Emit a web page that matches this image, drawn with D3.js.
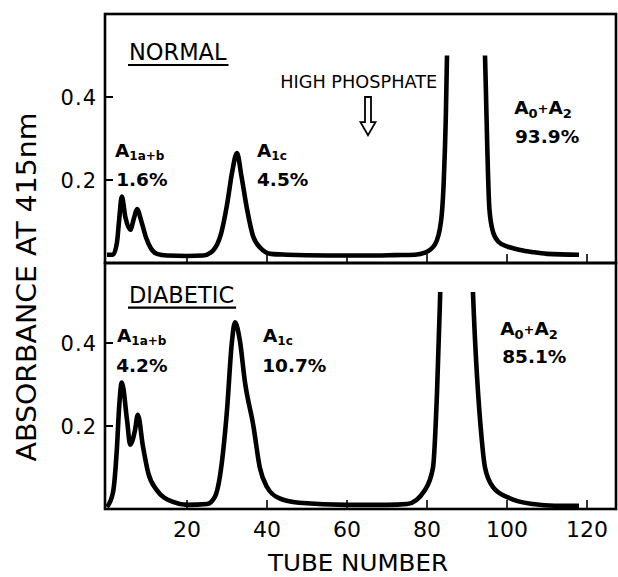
<!DOCTYPE html>
<html>
<head>
<meta charset="utf-8">
<script src="https://cdn.jsdelivr.net/npm/d3@7"></script>
<style>
	body { margin:0; background:#fff; }
	svg { display:block; font-family:"DejaVu Sans", "Liberation Sans", sans-serif; }
</style>
</head>
<body>
<svg id="chart" width="618" height="577"></svg>
<script>
// chromatogram: tube number vs absorbance
var normalTube = [0, 1.5, 2.5, 3.0, 3.7, 4.6, 5.8, 6.8, 7.5, 8.6, 9.8, 11, 12.5, 15, 20, 24, 26.5, 28.5, 30, 31.3, 32.5, 33.6, 35, 36.5, 38.5, 41, 45, 55, 65, 72, 77, 79.5, 82, 83.5, 84.2, 84.7, 85, 89.5, 94.5, 95.6, 96.5, 98, 100, 103, 106.5, 110, 118]
var normalAbs  = [0.02, 0.02, 0.05, 0.1, 0.16, 0.11, 0.08, 0.11, 0.13, 0.1, 0.06, 0.035, 0.022, 0.018, 0.017, 0.018, 0.03, 0.07, 0.14, 0.22, 0.265, 0.21, 0.13, 0.065, 0.035, 0.022, 0.02, 0.018, 0.018, 0.019, 0.02, 0.025, 0.045, 0.1, 0.2, 0.35, 0.5, 2.2, 0.5, 0.13, 0.075, 0.05, 0.04, 0.032, 0.026, 0.022, 0.02]

var diabeticTube = [0, 1.5, 2.5, 3.0, 3.7, 5.0, 5.8, 7.0, 7.7, 9.0, 10.3, 12.4, 16.5, 20, 25, 27, 28.2, 30, 31.2, 32, 33.2, 34.5, 36.6, 38.2, 40, 43, 48, 60, 70, 75, 79.5, 81.5, 82.5, 83.3, 87.5, 91.5, 93.7, 94.5, 96.5, 100.7, 106.5, 112, 118]
var diabeticAbs  = [0.005, 0.04, 0.15, 0.24, 0.305, 0.215, 0.155, 0.19, 0.227, 0.15, 0.087, 0.046, 0.017, 0.01, 0.012, 0.03, 0.077, 0.238, 0.4, 0.45, 0.407, 0.305, 0.2, 0.1, 0.053, 0.026, 0.015, 0.01, 0.01, 0.012, 0.046, 0.1, 0.28, 0.52, 2.2, 0.52, 0.166, 0.1, 0.053, 0.026, 0.012, 0.008, 0.008]

var xTicks = [20, 40, 60, 80, 100, 120]
var yTicks = [0.2, 0.4]
var yTickLabels = ["0.2", "0.4"]

// peak labels: [main, subscript, percent]
var normalPeaks = [["A", "1a+b", "1.6%"], ["A", "1c", "4.5%"], ["A0+A2", "", "93.9%"]]
var diabeticPeaks = [["A", "1a+b", "4.2%"], ["A", "1c", "10.7%"], ["A0+A2", "", "85.1%"]]

var svg = d3.select("#chart")

var left = 105, right = 616
var x = d3.scaleLinear().domain([-0.5, 127.25]).range([left, right])

var panels = [
	{name:"NORMAL", tube:normalTube, abs:normalAbs, peaks:normalPeaks, top:14, bottom:263, clip:0.5,
	 pos:[[2, 0.255, 2.3, 0.185], [37.5, 0.255, 37.5, 0.185], [101.8, 0.36, 102, 0.29]], title:[5.5, 0.488]},
	{name:"DIABETIC", tube:diabeticTube, abs:diabeticAbs, peaks:diabeticPeaks, top:263, bottom:509, clip:0.523,
	 pos:[[2.5, 0.402, 2.3, 0.33], [39, 0.402, 38.8, 0.33], [98.3, 0.419, 98.8, 0.352]], title:[5.5, 0.496]}
]

panels.forEach(function(p, i)
{
	var y = d3.scaleLinear().domain([0, 0.6]).range([p.bottom, p.bottom - 249])
	var g = svg.append("g")

	g.append("clipPath").attr("id", "clip" + i)
		.append("rect")
		.attr("x", left).attr("width", right - left)
		.attr("y", y(p.clip)).attr("height", p.bottom - y(p.clip) + 4)

	// frame
	g.append("rect")
		.attr("x", left).attr("y", p.top)
		.attr("width", right - left).attr("height", p.bottom - p.top)
		.attr("fill", "none").attr("stroke", "#000").attr("stroke-width", 2.6)

	// inward ticks
	g.selectAll(".yt").data(yTicks).enter().append("line")
		.attr("x1", left).attr("x2", left + 8)
		.attr("y1", function(d){ return y(d) }).attr("y2", function(d){ return y(d) })
		.attr("stroke", "#000").attr("stroke-width", 2)
	g.selectAll(".xt").data(xTicks).enter().append("line")
		.attr("x1", function(d){ return x(d) }).attr("x2", function(d){ return x(d) })
		.attr("y1", p.bottom).attr("y2", p.bottom - 9)
		.attr("stroke", "#000").attr("stroke-width", 1.6)

	g.selectAll(".yl").data(yTicks).enter().append("text")
		.attr("x", 97).attr("y", function(d){ return y(d) + 7.5 })
		.attr("text-anchor", "end").attr("font-size", 21)
		.attr("letter-spacing", 1)
		.text(function(d, j){ return yTickLabels[j] })

	var pts = p.tube.map(function(t, j){ return {t:t, v:p.abs[j]} })
	var line = d3.line()
		.x(function(d){ return x(d.t) })
		.y(function(d){ return y(d.v) })
		.curve(d3.curveMonotoneX)

	g.append("path")
		.datum(pts)
		.attr("clip-path", "url(#clip" + i + ")")
		.attr("fill", "none").attr("stroke", "#000")
		.attr("stroke-width", 4.6).attr("stroke-linejoin", "round")
		.attr("d", line)

	// panel title, underlined
	var tt = g.append("text")
		.attr("x", x(p.title[0])).attr("y", y(p.title[1]))
		.attr("font-size", 22.5).text(p.name)
	var w = tt.node().getComputedTextLength()
	g.append("line")
		.attr("x1", x(p.title[0]) - 1).attr("x2", x(p.title[0]) + w + 2)
		.attr("y1", y(p.title[1]) + 4.5).attr("y2", y(p.title[1]) + 4.5)
		.attr("stroke", "#000").attr("stroke-width", 2.2)

	p.peaks.forEach(function(pk, k)
	{
		var ps = p.pos[k]
		var t = g.append("text")
			.attr("x", x(ps[0])).attr("y", y(ps[1]))
			.attr("font-size", 18.5).attr("font-weight", "bold")
		if (pk[1] != "")
		{
			t.append("tspan").text(pk[0])
			t.append("tspan").attr("font-size", 12).attr("dy", 3).text(pk[1])
		}
		else
		{
			t.append("tspan").text("A")
			t.append("tspan").attr("font-size", 13).attr("dy", 4).text("0")
			t.append("tspan").attr("font-size", 13).attr("dy", -5).text("+")
			t.append("tspan").attr("dy", 1).text("A")
			t.append("tspan").attr("font-size", 13).attr("dy", 4).text("2")
		}
		g.append("text")
			.attr("x", x(ps[2])).attr("y", y(ps[3]))
			.attr("font-size", 18.5).attr("font-weight", "bold")
			.text(pk[2])
	})

	if (i == 0)
	{
		g.append("text")
			.attr("x", x(43.3)).attr("y", y(0.422))
			.attr("font-size", 17)
			.attr("textLength", 157).attr("lengthAdjust", "spacingAndGlyphs")
			.text("HIGH PHOSPHATE")

		// hollow down arrow
		var ax = x(65.25), a0 = y(0.4), a1 = y(0.308)
		g.append("path")
			.attr("d", "M" + (ax - 3) + "," + a0 + "V" + (a1 - 13) + "H" + (ax - 7.5) +
				"L" + ax + "," + a1 + "L" + (ax + 7.5) + "," + (a1 - 13) + "H" + (ax + 3) + "V" + a0 + "Z")
			.attr("fill", "#fff").attr("stroke", "#000").attr("stroke-width", 1.8)
			.attr("stroke-linejoin", "miter")
	}
	else
	{
		g.selectAll(".xl").data(xTicks).enter().append("text")
			.attr("x", function(d){ return x(d) }).attr("y", 537)
			.attr("text-anchor", "middle").attr("font-size", 22)
			.text(function(d){ return d })
	}
})

svg.append("text")
	.attr("x", 358).attr("y", 571)
	.attr("text-anchor", "middle").attr("font-size", 23)
	.attr("textLength", 180).attr("lengthAdjust", "spacingAndGlyphs")
	.text("TUBE NUMBER")

svg.append("text")
	.attr("transform", "translate(36,287) rotate(-90)")
	.attr("text-anchor", "middle").attr("font-size", 27)
	.attr("textLength", 349).attr("lengthAdjust", "spacingAndGlyphs")
	.text("ABSORBANCE AT 415nm")
</script>
</body>
</html>
